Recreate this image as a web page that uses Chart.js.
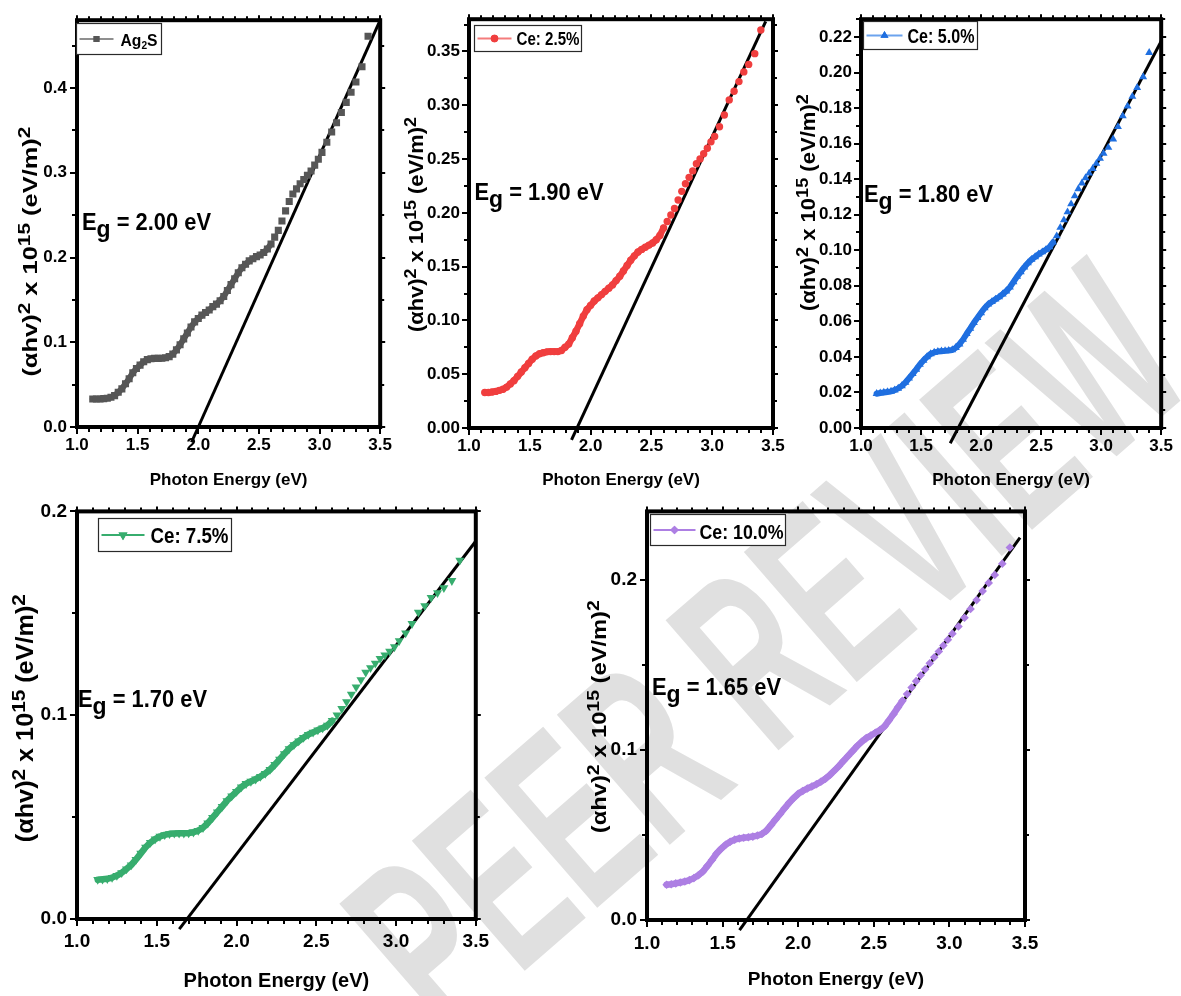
<!DOCTYPE html>
<html>
<head>
<meta charset="utf-8">
<script src="https://cdn.jsdelivr.net/npm/chart.js@4/dist/chart.umd.min.js"></script>
<style>
  html, body { margin: 0; padding: 0; background: #ffffff; }
  body { width: 1181px; height: 996px; position: relative; overflow: hidden; }
  .panel { position: absolute; }
  .panel canvas { display: block; }
  #wm { position: absolute; left: 0; top: 0; }
</style>
</head>
<body>
<canvas id="wm" width="1181" height="996"></canvas>
<div class="panel" style="left:0px;top:0px;"><canvas id="c0" width="400" height="495"></canvas></div>
<div class="panel" style="left:393px;top:0px;"><canvas id="c1" width="400" height="495"></canvas></div>
<div class="panel" style="left:785px;top:0px;"><canvas id="c2" width="396" height="495"></canvas></div>
<div class="panel" style="left:0px;top:490px;"><canvas id="c3" width="500" height="506"></canvas></div>
<div class="panel" style="left:570px;top:490px;"><canvas id="c4" width="490" height="506"></canvas></div>
<script>
// ---------------- data ----------------
const energy = [1.13, 1.16, 1.19, 1.22, 1.25, 1.28, 1.31, 1.34, 1.37, 1.40,
  1.43, 1.46, 1.49, 1.52, 1.55, 1.58, 1.61, 1.64, 1.67, 1.70,
  1.73, 1.76, 1.79, 1.82, 1.85, 1.88, 1.91, 1.94, 1.97, 2.00,
  2.03, 2.06, 2.09, 2.12, 2.15, 2.18, 2.21, 2.24, 2.27, 2.30,
  2.33, 2.36, 2.39, 2.42, 2.45, 2.48, 2.51, 2.54, 2.57, 2.60,
  2.63, 2.66, 2.69, 2.72, 2.75, 2.78, 2.81, 2.84, 2.87, 2.90,
  2.93, 2.96, 2.99, 3.02, 3.06, 3.10, 3.14, 3.18, 3.22, 3.26,
  3.30, 3.35, 3.40];

const ag2s = [0.033, 0.033, 0.033, 0.0335, 0.034, 0.035, 0.037, 0.041, 0.045, 0.051,
  0.057, 0.064, 0.069, 0.073, 0.077, 0.0795, 0.0805, 0.081, 0.081, 0.0812,
  0.0818, 0.083, 0.086, 0.091, 0.097, 0.104, 0.111, 0.118, 0.124, 0.128,
  0.132, 0.135, 0.138, 0.142, 0.145, 0.149, 0.154, 0.161, 0.168, 0.175,
  0.182, 0.188, 0.192, 0.196, 0.1985, 0.201, 0.203, 0.206, 0.210, 0.216,
  0.224, 0.232, 0.243, 0.255, 0.266, 0.275, 0.281, 0.287, 0.292, 0.297,
  0.302, 0.309, 0.316, 0.324, 0.336, 0.348, 0.359, 0.371, 0.383, 0.395,
  0.407, 0.425, 0.461];

const ce25 = [0.033, 0.033, 0.0335, 0.034, 0.035, 0.036, 0.038, 0.041, 0.044, 0.048,
  0.052, 0.056, 0.060, 0.064, 0.067, 0.069, 0.070, 0.0708, 0.071, 0.071,
  0.071, 0.072, 0.075, 0.078, 0.084, 0.090, 0.097, 0.104, 0.110, 0.114,
  0.118, 0.121, 0.124, 0.127, 0.130, 0.133, 0.137, 0.141, 0.146, 0.151,
  0.156, 0.160, 0.1636, 0.166, 0.168, 0.170, 0.172, 0.175, 0.179, 0.186,
  0.192, 0.198, 0.204, 0.212, 0.220, 0.227, 0.233, 0.239, 0.2457, 0.250,
  0.255, 0.260, 0.266, 0.271, 0.280, 0.291, 0.305, 0.313, 0.322, 0.331,
  0.338, 0.348, 0.370];

const ce50 = [0.0193, 0.0197, 0.020, 0.0203, 0.0206, 0.0213, 0.0223, 0.0237, 0.0256, 0.028,
  0.0305, 0.033, 0.0357, 0.038, 0.040, 0.0417, 0.0425, 0.043, 0.0432, 0.0434,
  0.0436, 0.0439, 0.0452, 0.0472, 0.0498, 0.053, 0.056, 0.0592, 0.062, 0.0648,
  0.0675, 0.0696, 0.071, 0.0724, 0.0737, 0.0753, 0.077, 0.0792, 0.0822, 0.0852,
  0.0878, 0.0905, 0.0928, 0.0948, 0.0963, 0.0978, 0.099, 0.1003, 0.1018, 0.1045,
  0.108, 0.1128, 0.117, 0.1215, 0.126, 0.1305, 0.1345, 0.1378, 0.1407, 0.1433,
  0.1459, 0.1488, 0.1517, 0.1545, 0.1578, 0.1625, 0.1695, 0.1755, 0.181, 0.1865,
  0.1915, 0.1975, 0.2112];

const ce75 = [0.0193, 0.0195, 0.0197, 0.0203, 0.0213, 0.0227, 0.0245, 0.0265, 0.0292, 0.0322,
  0.0352, 0.0375, 0.0392, 0.0405, 0.0413, 0.0418, 0.042, 0.0421, 0.0421, 0.0422,
  0.0426, 0.0434, 0.0448, 0.047, 0.0497, 0.0525, 0.0552, 0.058, 0.0603, 0.0625,
  0.0647, 0.0664, 0.0675, 0.0686, 0.0699, 0.0714, 0.0733, 0.0757, 0.0783, 0.081,
  0.0835, 0.0855, 0.0873, 0.089, 0.0905, 0.0916, 0.0927, 0.0937, 0.095, 0.0973,
  0.100, 0.1032, 0.1066, 0.1102, 0.1138, 0.1174, 0.121, 0.1232, 0.1255, 0.1278,
  0.1295, 0.1313, 0.1335, 0.1365, 0.1403, 0.1449, 0.1505, 0.1537, 0.1577, 0.160,
  0.1625, 0.166, 0.176];

const ce100 = [0.0207, 0.021, 0.0215, 0.022, 0.0226, 0.0234, 0.0246, 0.0263, 0.0285, 0.0318,
  0.0353, 0.039, 0.0418, 0.0442, 0.046, 0.0472, 0.0479, 0.0483, 0.0486, 0.049,
  0.0496, 0.0505, 0.0525, 0.0557, 0.059, 0.0623, 0.0656, 0.0688, 0.0716, 0.0741,
  0.0758, 0.0772, 0.0784, 0.0797, 0.0812, 0.083, 0.0852, 0.0878, 0.0905, 0.0935,
  0.0964, 0.0993, 0.1022, 0.1047, 0.1068, 0.1083, 0.110, 0.1115, 0.1137, 0.1172,
  0.1209, 0.1249, 0.1288, 0.1327, 0.1366, 0.1403, 0.1438, 0.1473, 0.1508, 0.1543,
  0.1577, 0.1612, 0.1646, 0.1682, 0.1724, 0.1775, 0.1827, 0.1879, 0.1932, 0.198,
  0.2027, 0.2093, 0.2188];

// Tauc fit lines (end points)
const fitX = [[1.944, 3.50], [1.843, 3.44], [1.743, 3.50], [1.641, 3.496], [1.612, 3.467]];
const fitY = [[-0.018, 0.480], [-0.011, 0.378], [-0.0086, 0.2176], [-0.005, 0.185], [-0.006, 0.2246]];

const bandGaps = ['2.00', '1.90', '1.80', '1.70', '1.65'];
const seriesNames = ['Ag2S', 'Ce: 2.5%', 'Ce: 5.0%', 'Ce: 7.5%', 'Ce: 10.0%'];
const xTickLabels = ['1.0', '1.5', '2.0', '2.5', '3.0', '3.5'];
const yMaxes = [0.48, 0.38, 0.23, 0.20, 0.24];
const ySteps = [0.1, 0.05, 0.02, 0.1, 0.1];
const xTitle = 'Photon Energy (eV)';
const watermarkText = 'PEER REVIEW';

// ---------------- styles / layout ----------------
const FONT = '"Liberation Sans", Arial, Helvetica, sans-serif';
const seriesY = [ag2s, ce25, ce50, ce75, ce100];

const panels = [
  { yW: 77, padT: 12, padR: 19, xH: 68, tick: 17, tickPadY: 10, tickPadX: 8, xt: 17, xtPad: 4,
    color: '#565656', line: '#8f8f8f', style: 'rect', rot: 0, r: 5, band: 6, cut: 2.62, yDec: 1, yMinor: 0.05,
    leg: { dx: -1, dy: 3, w: 85, h: 31, l0: 3, l1: 37, tx: 44, ty: 22, size: 16, width: 37, mr: 4.2 },
    eg: { dx: 5, dy: 210 }, yt: { off: 40, dy: 28, size: 21, len: 250 } },
  { yW: 76, padT: 11, padR: 20, xH: 67, tick: 17, tickPadY: 9, tickPadX: 8, xt: 17, xtPad: 4,
    color: '#f03e3e', line: '#f47c7c', style: 'circle', rot: 0, r: 3.7, band: 6.5, cut: 2.6, yDec: 2, yMinor: 0.025,
    leg: { dx: 5, dy: 6, w: 107, h: 26, l0: 3, l1: 37, tx: 42, ty: 19, size: 19, width: 63, mr: 3.7 },
    eg: { dx: 5.5, dy: 181 }, yt: { off: 46, dy: 1, size: 20, len: 215 } },
  { yW: 76, padT: 11, padR: 15, xH: 67, tick: 17, tickPadY: 9, tickPadX: 8, xt: 17, xtPad: 4,
    color: '#1f6fe0', line: '#6ca3ee', style: 'triangle', rot: 0, r: 4.6, band: 6, cut: 2.62, yDec: 2, yMinor: 0.01,
    leg: { dx: 2, dy: 2, w: 114, h: 28, l0: 3, l1: 39, tx: 44, ty: 21, size: 20, width: 67, mr: 4.6 },
    eg: { dx: 3, dy: 183 }, yt: { off: 46, dy: -21, size: 20, len: 217 } },
  { yW: 77, padT: 12, padR: 18, xH: 77, tick: 19, tickPadY: 10, tickPadX: 11, xt: 20, xtPad: 3,
    color: '#37ad6e', line: '#37ad6e', style: 'triangle', rot: 180, r: 5.2, band: 6.5, cut: 2.6, yDec: 1, yMinor: 0.05,
    leg: { dx: 21, dy: 7, w: 133, h: 33, l0: 3, l1: 46, tx: 52, ty: 24, size: 22, width: 78, mr: 5.2 },
    eg: { dx: 1, dy: 196 }, yt: { off: 44, dy: 3, size: 23, len: 248 } },
  { yW: 77, padT: 14, padR: 35, xH: 76, tick: 19, tickPadY: 10, tickPadX: 12, xt: 19, xtPad: 5,
    color: '#ad7fe3', line: '#ad7fe3', style: 'rectRot', rot: 0, r: 4.3, band: 6.5, cut: 2.7, yDec: 1, yMinor: 0.05,
    leg: { dx: 3, dy: 3, w: 135, h: 31, l0: 3, l1: 45, tx: 49, ty: 24, size: 19.5, width: 84, mr: 4.3 },
    eg: { dx: 5, dy: 184 }, yt: { off: 41, dy: 1, size: 21, len: 233 } }
];

// ---------------- watermark (behind the charts) ----------------
(function () {
  const c = document.getElementById('wm').getContext('2d');
  c.save();
  c.translate(445, 1040);
  c.rotate(-41 * Math.PI / 180);
  c.scale(0.72, 1.25);
  c.fillStyle = '#e0e0e0';
  c.font = 'bold 200px ' + FONT;
  c.textBaseline = 'alphabetic';
  c.fillText(watermarkText, 0, 0);
  c.restore();
})();

// ---------------- rich text helper (super/subscripts) ----------------
function drawRich(ctx, parts, x, y, size, opt) {
  const fontOf = p => 'bold ' + ((p.sup || p.sub) ? size * opt.small : size) + 'px ' + FONT;
  let natural = 0;
  for (const p of parts) { ctx.font = fontOf(p); natural += ctx.measureText(p.t).width; }
  const sx = opt.width ? opt.width / natural : 1;
  const total = natural * sx;
  ctx.save();
  ctx.translate(opt.center ? x - total / 2 : x, y);
  ctx.scale(sx, 1);
  ctx.fillStyle = '#000';
  ctx.textBaseline = 'alphabetic';
  ctx.textAlign = 'left';
  let cx = 0;
  for (const p of parts) {
    ctx.font = fontOf(p);
    const dy = p.sup ? -size * opt.rise : (p.sub ? size * opt.drop : 0);
    ctx.fillText(p.t, cx, dy);
    cx += ctx.measureText(p.t).width;
  }
  ctx.restore();
}

function legendParts(name) {
  if (name === 'Ag2S') return [{ t: 'Ag' }, { t: '2', sub: true }, { t: 'S' }];
  return [{ t: name }];
}

const yTitleParts = [{ t: '(\u03b1hv)' }, { t: '2', sup: true }, { t: ' x 10' }, { t: '15', sup: true },
  { t: ' (eV/m)' }, { t: '2', sup: true }];

function makeDeco(i) {
  const p = panels[i];
  return {
    id: 'deco' + i,
    afterDraw(chart) {
      const { ctx, chartArea: a, scales } = chart;
      const xs = scales.x, ys = scales.y;
      ctx.save();
      ctx.strokeStyle = '#000';
      ctx.lineWidth = 2;
      ctx.beginPath();
      const nx = Math.round((xs.max - xs.min) / 0.1);
      for (let k = 0; k <= nx; k++) {
        const v = xs.min + k * 0.1;
        const px = Math.round(xs.getPixelForValue(v));
        const major = k % 5 === 0;
        ctx.moveTo(px, a.bottom); ctx.lineTo(px, a.bottom + 2 + (major ? 5 : 3));
        ctx.moveTo(px, a.top); ctx.lineTo(px, a.top - 2 - (major ? 3 : 2));
      }
      const ny = Math.floor(ys.max / p.yMinor + 1e-6);
      const ratio = Math.round(ySteps[i] / p.yMinor);
      for (let k = 0; k <= ny; k++) {
        const v = k * p.yMinor;
        const py = Math.round(ys.getPixelForValue(v));
        const major = k % ratio === 0;
        ctx.moveTo(a.left, py); ctx.lineTo(a.left - 2 - (major ? 5 : 3), py);
        ctx.moveTo(a.right, py); ctx.lineTo(a.right + 2 + (major ? 3 : 2), py);
      }
      ctx.stroke();
      ctx.lineWidth = 4;
      ctx.strokeRect(a.left, a.top, a.right - a.left, a.bottom - a.top);

      // legend box
      const L = p.leg;
      const bx = Math.round(a.left + L.dx) + 0.5, by = Math.round(a.top + L.dy) + 0.5;
      ctx.fillStyle = '#fff';
      ctx.fillRect(bx, by, L.w, L.h);
      ctx.lineWidth = 1.2;
      ctx.strokeStyle = '#2a2a2a';
      ctx.strokeRect(bx, by, L.w, L.h);
      const ly = by + L.h / 2;
      ctx.strokeStyle = p.line;
      ctx.lineWidth = 2;
      ctx.beginPath(); ctx.moveTo(bx + L.l0, ly); ctx.lineTo(bx + L.l1, ly); ctx.stroke();
      ctx.fillStyle = p.color;
      Chart.helpers.drawPoint(ctx, { pointStyle: p.style, rotation: p.rot, radius: L.mr, borderWidth: 0 },
        bx + (L.l0 + L.l1) / 2, ly);
      ctx.fill();
      drawRich(ctx, legendParts(seriesNames[i]), bx + L.tx, by + L.ty, L.size,
        { small: 0.65, drop: 0.22, rise: 0.3, width: L.width });

      // band-gap annotation
      drawRich(ctx, [{ t: 'E' }, { t: 'g', sub: true }, { t: ' = ' + bandGaps[i] + ' eV' }],
        a.left + p.eg.dx, a.top + p.eg.dy, 23, { small: 1.05, drop: 0.28, rise: 0, width: 129 });

      // rotated y-axis title
      ctx.save();
      ctx.translate(a.left - p.yt.off, (a.top + a.bottom) / 2 + p.yt.dy);
      ctx.rotate(-Math.PI / 2);
      drawRich(ctx, yTitleParts, 0, 0, p.yt.size, { small: 0.82, rise: 0.33, drop: 0, width: p.yt.len, center: true });
      ctx.restore();
      ctx.restore();
    }
  };
}

function makeChart(i) {
  const p = panels[i];
  const pts = energy.map((e, k) => ({ x: e, y: seriesY[i][k] }));
  const fit = [{ x: fitX[i][0], y: fitY[i][0] }, { x: fitX[i][1], y: fitY[i][1] }];
  return new Chart(document.getElementById('c' + i), {
    type: 'scatter',
    data: {
      datasets: [
        { label: seriesNames[i], data: pts, showLine: true, pointStyle: p.style, rotation: p.rot,
          pointRadius: p.r, pointHoverRadius: p.r, backgroundColor: p.color, borderColor: p.color,
          pointBorderWidth: 0, borderWidth: p.band, borderCapStyle: 'round', borderJoinStyle: 'round',
          tension: 0, fill: false,
          segment: { borderColor: (s) => (s.p1.parsed.x <= p.cut ? p.color : 'rgba(0,0,0,0)') } },
        { label: 'fit', data: fit, showLine: true, borderColor: '#000', borderWidth: 3, pointRadius: 0,
          fill: false, clip: false, tension: 0 }
      ]
    },
    options: {
      responsive: false,
      maintainAspectRatio: false,
      devicePixelRatio: 1,
      animation: false,
      events: [],
      layout: { padding: { left: 0, top: p.padT, right: p.padR, bottom: 0 } },
      plugins: { legend: { display: false }, tooltip: { enabled: false }, title: { display: false } },
      scales: {
        x: {
          type: 'linear', position: 'bottom', min: 1.0, max: 3.5,
          afterFit(s) { s.height = p.xH; },
          grid: { display: false, drawTicks: false },
          border: { display: false },
          ticks: { stepSize: 0.5, padding: p.tickPadX, color: '#000', maxRotation: 0, autoSkip: false,
            font: { family: FONT, size: p.tick, weight: 'bold' },
            callback: (v) => xTickLabels[Math.round((v - 1.0) / 0.5)] },
          title: { display: true, text: xTitle, color: '#000', padding: { top: 0, bottom: p.xtPad },
            font: { family: FONT, size: p.xt, weight: 'bold' } }
        },
        y: {
          type: 'linear', position: 'left', min: 0, max: yMaxes[i],
          afterFit(s) { s.width = p.yW; },
          grid: { display: false, drawTicks: false },
          border: { display: false },
          ticks: { stepSize: ySteps[i], includeBounds: false, padding: p.tickPadY, color: '#000',
            font: { family: FONT, size: p.tick, weight: 'bold' },
            callback: (v) => Number(v).toFixed(p.yDec) }
        }
      }
    },
    plugins: [makeDeco(i)]
  });
}

for (let i = 0; i < 5; i++) makeChart(i);
</script>
</body>
</html>
